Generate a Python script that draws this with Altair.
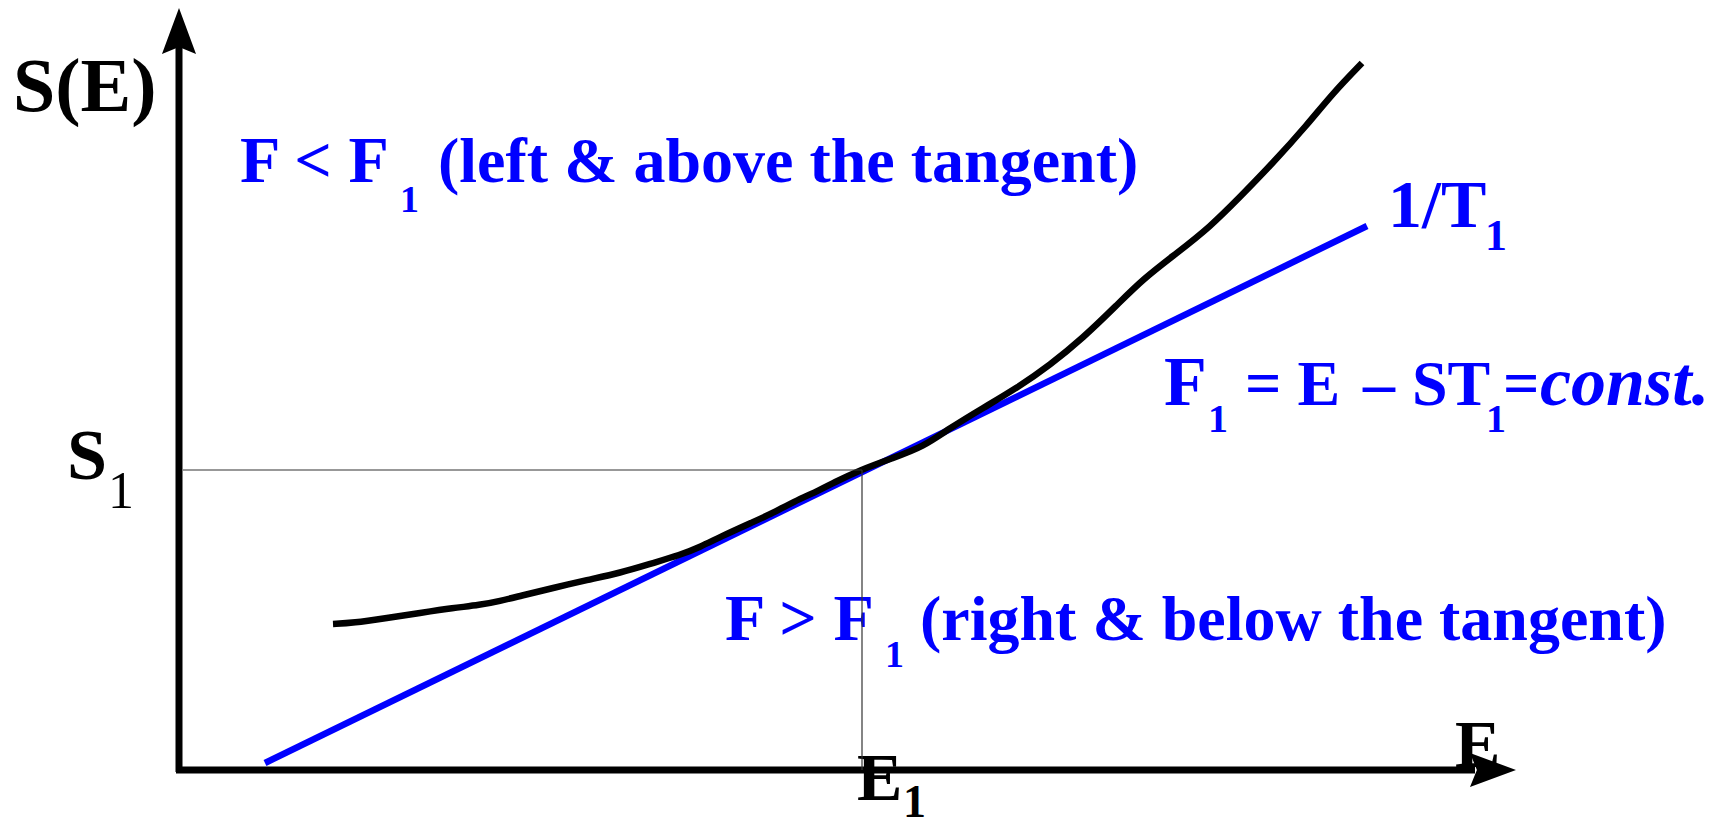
import altair as alt
import pandas as pd

# ---------------- data (diagram units: E horizontal, S vertical) ----------------
curve_E = [1.54, 1.74, 2.08, 2.41, 2.74, 3.01, 3.21, 3.41, 3.74, 4.08, 4.41, 4.74,
           5.01, 5.21, 5.41, 5.74, 5.94, 6.14, 6.41, 6.54, 6.81, 7.14, 7.44, 7.71,
           8.04, 8.38, 8.71, 9.04, 9.38, 9.64, 9.98, 10.31, 10.61, 10.94, 11.28,
           11.54, 11.83]
curve_S = [1.46, 1.47, 1.52, 1.57, 1.62, 1.65, 1.69, 1.74, 1.82, 1.90, 1.97, 2.07,
           2.15, 2.23, 2.33, 2.48, 2.57, 2.68, 2.80, 2.87, 3.00, 3.12, 3.23, 3.42,
           3.62, 3.82, 4.05, 4.32, 4.65, 4.91, 5.17, 5.43, 5.73, 6.07, 6.45,
           6.77, 7.07]

tangent_E = [0.86, 11.88]
tangent_S = [0.07, 5.44]

E1 = 6.83
S1 = 3.00

# axes (E axis along S=0, S axis along E=0)
axis_E_start, axis_E_shaft_end, axis_E_tip = -0.03, 12.96, 13.37
axis_S_start, axis_S_shaft_end, axis_S_tip = -0.02, 7.23, 7.62

# labels: text, E anchor, S baseline
label_text = ["S(E)", "S", "1", "E", "E", "1",
              "F < F", "1", "(left & above the tangent)",
              "1/T", "1",
              "F", "1", "= E", "\u2013", "ST", "1", "=", "const.",
              "F > F", "1", "(right & below the tangent)"]
label_E = [-1.66, -1.12, -0.71, 12.76, 6.78, 7.24,
           0.61, 2.21, 2.59,
           12.09, 13.06,
           9.85, 10.29, 10.66, 11.84, 12.33, 13.07, 13.24, 13.61,
           5.46, 7.06, 7.41]
label_S = [6.59, 2.91, 2.62, 0.03, -0.30, -0.47,
           5.88, 5.58, 5.88,
           5.43, 5.20,
           3.65, 3.38, 3.65, 3.65, 3.65, 3.38, 3.65, 3.65,
           1.30, 1.03, 1.30]
label_color = ["black"] * 6 + ["blue"] * 16
label_size = [76, 72, 52, 68, 68, 46,
              66, 38, 64,
              68, 44,
              70, 40, 64, 64, 64, 40, 64, 70,
              66, 38, 64]
label_weight = ["bold", "bold", "normal", "bold", "bold", "bold"] + ["bold"] * 16
label_style = ["normal"] * 18 + ["italic"] + ["normal"] * 3

# ---------------- chart ----------------
W, H = 1706, 813
xs = alt.Scale(domain=[-1.71, -1.71 + W / 100], nice=False, zero=False)
ys = alt.Scale(domain=[7.62 - H / 100, 7.62], nice=False, zero=False)


def X(field="E"):
    return alt.X(f"{field}:Q", scale=xs, axis=None)


def Y(field="S"):
    return alt.Y(f"{field}:Q", scale=ys, axis=None)


curve_df = pd.DataFrame({"E": curve_E, "S": curve_S})
tan_df = pd.DataFrame({"E": tangent_E, "S": tangent_S})

curve = alt.Chart(curve_df).mark_line(
    color="black", strokeWidth=6.5, interpolate="basis", strokeCap="butt"
).encode(x=X(), y=Y())

tangent = alt.Chart(tan_df).mark_line(
    color="#0000ff", strokeWidth=6.5, strokeCap="butt"
).encode(x=X(), y=Y())

guides_df = pd.DataFrame({
    "E": [0.04, E1], "E2": [E1, E1],
    "S": [S1, 0.0], "S2": [S1, S1],
})
guides = alt.Chart(guides_df).mark_rule(color="#333333", strokeWidth=1.2).encode(
    x=X(), x2="E2:Q", y=Y(), y2="S2:Q"
)

axes_df = pd.DataFrame({
    "E": [axis_E_start, 0.0], "E2": [axis_E_shaft_end, 0.0],
    "S": [0.0, axis_S_start], "S2": [0.0, axis_S_shaft_end],
})
axes = alt.Chart(axes_df).mark_rule(color="black", strokeWidth=7).encode(
    x=X(), x2="E2:Q", y=Y(), y2="S2:Q"
)

head_half = 0.23  # half length of arrowheads in diagram units
up_df = pd.DataFrame({"E": [0.0], "S": [axis_S_tip - head_half]})
right_df = pd.DataFrame({"E": [axis_E_tip - head_half], "S": [0.0]})
up_head = alt.Chart(up_df).mark_point(
    shape="M0,-1L0.74,1L0,0.7L-0.74,1Z", size=2116, filled=True,
    color="black", opacity=1, strokeWidth=0
).encode(x=X(), y=Y())
right_head = alt.Chart(right_df).mark_point(
    shape="M1,0L-1,0.74L-0.7,0L-1,-0.74Z", size=2116, filled=True,
    color="black", opacity=1, strokeWidth=0
).encode(x=X(), y=Y())

texts = []
for t, e, s, c, sz, w, st in zip(label_text, label_E, label_S, label_color,
                                 label_size, label_weight, label_style):
    df = pd.DataFrame({"E": [e], "S": [s], "t": [t]})
    texts.append(
        alt.Chart(df).mark_text(
            align="left", baseline="alphabetic", font="Liberation Serif",
            fontSize=sz, fontWeight=w, fontStyle=st,
            color="#0000ff" if c == "blue" else "black"
        ).encode(x=X(), y=Y(), text="t:N")
    )

chart = alt.layer(
    *texts, tangent, curve, axes, up_head, right_head, guides
).properties(
    width=W, height=H, padding=0,
    autosize=alt.AutoSizeParams(type="none"),
    background="white",
).configure_view(stroke=None)

chart.save("out.html", embed_options={"renderer": "svg", "actions": False})
